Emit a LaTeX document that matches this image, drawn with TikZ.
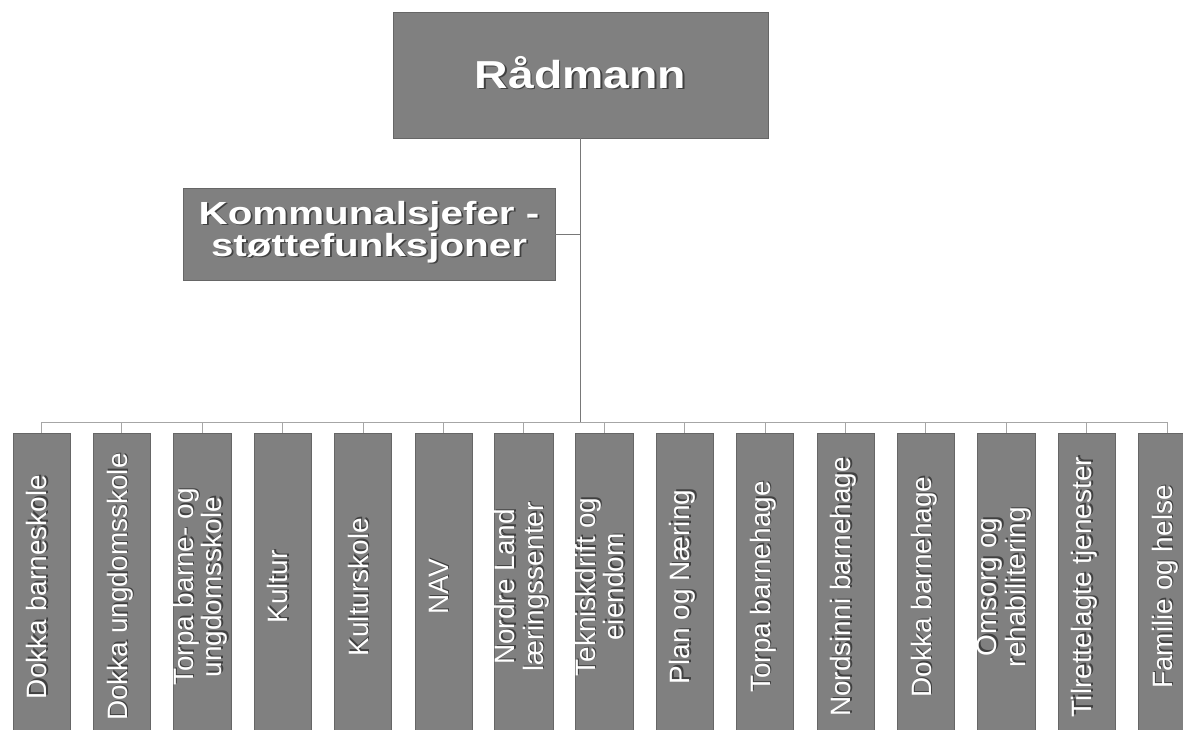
\documentclass[tikz,border=0pt]{standalone}
\usepackage{fontspec}
\setmainfont{Liberation Sans}
\definecolor{boxgray}{RGB}{128,128,128}
\definecolor{linegray}{RGB}{120,120,120}
\newcommand\shadtxt[2][1]{\scalebox{#1}[1]{\leavevmode\rlap{\color{black!75}\raisebox{-1.4pt}{\kern1.4pt\begin{tabular}{@{}c@{}}#2\end{tabular}}}\begin{tabular}{@{}c@{}}#2\end{tabular}}}
\begin{document}
\begin{tikzpicture}[x=1pt,y=-1pt,
  box/.style={fill=boxgray, draw=black!60, line width=0.6pt, text=white, inner sep=0pt},
  unit/.style={box, rotate=90, minimum width=308pt, minimum height=57pt, font=\fontsize{28}{28}\selectfont},
  conn/.style={draw=linegray, line width=0.9pt}]
\useasboundingbox (0,0) rectangle (1183,730);
\node[box, minimum width=375pt, minimum height=126pt, font=\fontsize{39}{70}\selectfont\bfseries] (rad) at (580.5,75) {\shadtxt[1.19]{Rådmann}};
\node[box, minimum width=372pt, minimum height=92pt, font=\fontsize{32}{30}\selectfont\bfseries] (kom) at (369,234) {\raisebox{2pt}{\shadtxt[1.26]{Kommunalsjefer -\\støttefunksjoner}}};
\foreach \t [count=\i] in {Dokka barneskole, Dokka ungdomsskole, {Torpa barne- og\\ungdomsskole}, Kultur, Kulturskole, NAV, {Nordre Land\\læringssenter}, {Tekniskdrift og\\eiendom}, Plan og Næring, Torpa barnehage, Nordsinni barnehage, Dokka barnehage, {Omsorg og\\rehabilitering}, Tilrettelagte tjenester, Familie og helse}{
  \node[unit] (b\i) at ({41.5+80.4*(\i-1)},587) {\shadtxt{\t}};
}
\coordinate (hub) at (580.5,422);
\draw[conn] (rad.south) -- (rad.south |- hub);
\draw[conn] (kom.east) -- (kom.east -| rad.south);
\draw[conn, draw=black!35] (b1.east |- hub) -- (b15.east |- hub);
\foreach \i in {1,...,15}{
  \draw[conn, draw=black!35] (b\i.east |- hub) -- (b\i.east);
}
\end{tikzpicture}
\end{document}
